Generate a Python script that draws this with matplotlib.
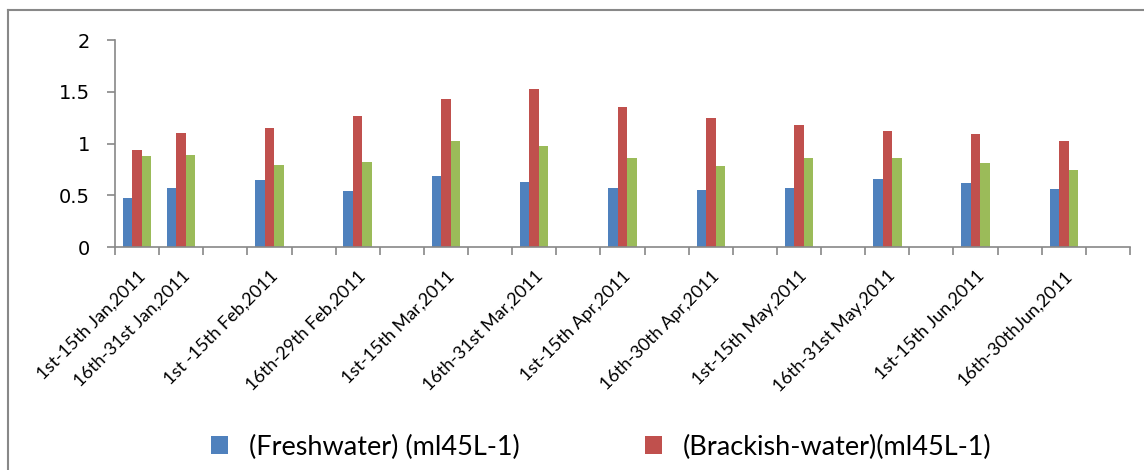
import matplotlib.pyplot as plt
from matplotlib.lines import Line2D
import numpy as np

plt.rcParams['font.family'] = ['Lato', 'DejaVu Sans']

periods = ["1st-15th Jan,2011", "16th-31st Jan,2011", "1st -15th Feb,2011",
           "16th-29th Feb,2011", "1st-15th Mar,2011", "16th-31st Mar,2011",
           "1st-15th Apr,2011", "16th-30th Apr,2011", "1st-15th May,2011",
           "16th-31st May,2011", "1st-15th Jun,2011", "16th-30thJun,2011"]
freshwater = [0.47, 0.57, 0.65, 0.54, 0.69, 0.63, 0.57, 0.55, 0.57, 0.66, 0.62, 0.56]
brackish = [0.94, 1.10, 1.15, 1.27, 1.43, 1.53, 1.35, 1.25, 1.18, 1.12, 1.09, 1.02]
third = [0.88, 0.89, 0.79, 0.82, 1.02, 0.98, 0.86, 0.78, 0.86, 0.86, 0.81, 0.74]

# excel category slots: first two adjacent, then every other slot
slots = np.array([0, 1] + list(range(3, 23, 2))) + 0.5
n_slots = 23

fig = plt.figure(figsize=(11.44, 4.70), dpi=100)
ax = fig.add_axes([115 / 1144, 1 - 247 / 470, 1015 / 1144, 207 / 470])

w = 0.215
ax.bar(slots - w, freshwater, w, color='#4F81BD', label='(Freshwater) (ml45L-1)')
ax.bar(slots, brackish, w, color='#C0504D', label='(Brackish-water)(ml45L-1)')
ax.bar(slots + w, third, w, color='#9BBB59')

ax.set_xlim(0, n_slots)
ax.set_ylim(0, 2)
ax.set_yticks([0, 0.5, 1, 1.5, 2])
ax.set_yticklabels(['0', '0.5', '1', '1.5', '2'], fontsize=14,
                   family=['DejaVu Sans'])

ax.set_xticks(np.arange(0, n_slots + 1))
ax.set_xticklabels([])
ax.set_xticks(slots, minor=True)
ax.set_xticklabels(periods, minor=True, rotation=45, ha='right',
                   rotation_mode='anchor', fontsize=13)
ax.tick_params(axis='x', which='minor', length=0, pad=15)
ax.tick_params(axis='both', which='major', color='#888888', length=6, width=1.2)
ax.tick_params(axis='y', pad=12)

for s in ['top', 'right']:
    ax.spines[s].set_visible(False)
for s in ['left', 'bottom']:
    ax.spines[s].set_color('#888888')
    ax.spines[s].set_linewidth(1.2)

# chart-area border (top and left edges visible)
fig.add_artist(Line2D([8 / 1144, 1], [1 - 10 / 470, 1 - 10 / 470],
                      color='#888888', lw=1.5, transform=fig.transFigure))
fig.add_artist(Line2D([8 / 1144, 8 / 1144], [0, 1 - 10 / 470],
                      color='#888888', lw=1.5, transform=fig.transFigure))

h, l = ax.get_legend_handles_labels()
fig.legend(h, l, loc='center left', bbox_to_anchor=(211 / 1144, 1 - 447 / 470),
           ncol=2, frameon=False, borderpad=0, borderaxespad=0, fontsize=19.5,
           handlelength=0.63, handleheight=0.63, handletextpad=0.78,
           columnspacing=4.6)

fig.savefig('out.png', dpi=100)
